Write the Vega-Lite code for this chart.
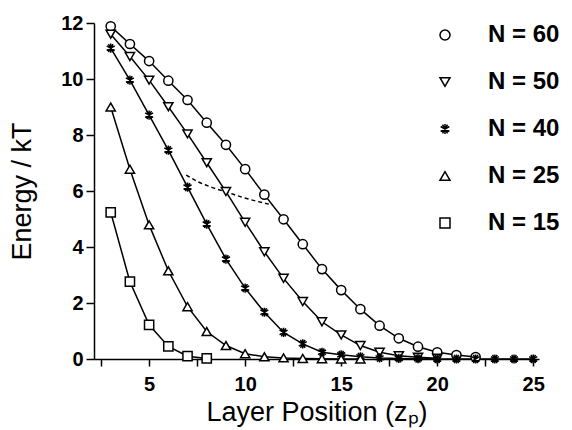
{
  "$schema": "https://vega.github.io/schema/vega-lite/v6.json",
  "width": 445,
  "height": 336,
  "autosize": "none",
  "padding": {"left": 94, "top": 23, "right": 33, "bottom": 71},
  "background": "white",
  "config": {
    "view": {"stroke": null},
    "font": "Liberation Sans",
    "axis": {
      "domainColor": "black", "domainWidth": 1.5, "tickColor": "black", "tickWidth": 1.5,
      "labelColor": "black", "titleColor": "black", "grid": false,
      "labelFont": "Liberation Sans", "labelFontWeight": "bold", "labelFontSize": 20,
      "titleFont": "Liberation Sans", "titleFontSize": 27, "titleFontWeight": "normal"
    }
  },
  "datasets": {
    "series": [
      {"N": "N = 60", "z": 3, "E": 11.88}, {"N": "N = 60", "z": 4, "E": 11.25}, {"N": "N = 60", "z": 5, "E": 10.64},
      {"N": "N = 60", "z": 6, "E": 9.94}, {"N": "N = 60", "z": 7, "E": 9.25}, {"N": "N = 60", "z": 8, "E": 8.44},
      {"N": "N = 60", "z": 9, "E": 7.65}, {"N": "N = 60", "z": 10, "E": 6.78}, {"N": "N = 60", "z": 11, "E": 5.87},
      {"N": "N = 60", "z": 12, "E": 4.99}, {"N": "N = 60", "z": 13, "E": 4.1}, {"N": "N = 60", "z": 14, "E": 3.21},
      {"N": "N = 60", "z": 15, "E": 2.46}, {"N": "N = 60", "z": 16, "E": 1.78}, {"N": "N = 60", "z": 17, "E": 1.19},
      {"N": "N = 60", "z": 18, "E": 0.74}, {"N": "N = 60", "z": 19, "E": 0.44}, {"N": "N = 60", "z": 20, "E": 0.24},
      {"N": "N = 60", "z": 21, "E": 0.14}, {"N": "N = 60", "z": 22, "E": 0.07},
      {"N": "N = 50", "z": 3, "E": 11.6}, {"N": "N = 50", "z": 4, "E": 10.8}, {"N": "N = 50", "z": 5, "E": 9.96},
      {"N": "N = 50", "z": 6, "E": 9.01}, {"N": "N = 50", "z": 7, "E": 8.04}, {"N": "N = 50", "z": 8, "E": 7.01},
      {"N": "N = 50", "z": 9, "E": 5.98}, {"N": "N = 50", "z": 10, "E": 4.88}, {"N": "N = 50", "z": 11, "E": 3.83},
      {"N": "N = 50", "z": 12, "E": 2.88}, {"N": "N = 50", "z": 13, "E": 2.05}, {"N": "N = 50", "z": 14, "E": 1.33},
      {"N": "N = 50", "z": 15, "E": 0.86}, {"N": "N = 50", "z": 16, "E": 0.48}, {"N": "N = 50", "z": 17, "E": 0.24},
      {"N": "N = 50", "z": 18, "E": 0.12}, {"N": "N = 50", "z": 19, "E": 0.06}, {"N": "N = 50", "z": 20, "E": 0.03},
      {"N": "N = 40", "z": 3, "E": 11.1}, {"N": "N = 40", "z": 4, "E": 9.96}, {"N": "N = 40", "z": 5, "E": 8.71},
      {"N": "N = 40", "z": 6, "E": 7.46}, {"N": "N = 40", "z": 7, "E": 6.14}, {"N": "N = 40", "z": 8, "E": 4.82},
      {"N": "N = 40", "z": 9, "E": 3.57}, {"N": "N = 40", "z": 10, "E": 2.53}, {"N": "N = 40", "z": 11, "E": 1.67},
      {"N": "N = 40", "z": 12, "E": 0.95}, {"N": "N = 40", "z": 13, "E": 0.54}, {"N": "N = 40", "z": 14, "E": 0.24},
      {"N": "N = 40", "z": 15, "E": 0.15}, {"N": "N = 40", "z": 16, "E": 0.08}, {"N": "N = 40", "z": 17, "E": 0.04},
      {"N": "N = 40", "z": 18, "E": 0.02}, {"N": "N = 40", "z": 19, "E": 0.01}, {"N": "N = 40", "z": 20, "E": 0.0},
      {"N": "N = 40", "z": 21, "E": 0.0}, {"N": "N = 40", "z": 22, "E": 0.0}, {"N": "N = 40", "z": 23, "E": 0.0},
      {"N": "N = 40", "z": 24, "E": 0.0}, {"N": "N = 40", "z": 25, "E": 0.0},
      {"N": "N = 25", "z": 3, "E": 9.0}, {"N": "N = 25", "z": 4, "E": 6.78}, {"N": "N = 25", "z": 5, "E": 4.79},
      {"N": "N = 25", "z": 6, "E": 3.15}, {"N": "N = 25", "z": 7, "E": 1.87}, {"N": "N = 25", "z": 8, "E": 0.98},
      {"N": "N = 25", "z": 9, "E": 0.48}, {"N": "N = 25", "z": 10, "E": 0.19}, {"N": "N = 25", "z": 11, "E": 0.08},
      {"N": "N = 25", "z": 12, "E": 0.04}, {"N": "N = 25", "z": 13, "E": 0.02}, {"N": "N = 25", "z": 14, "E": 0.01},
      {"N": "N = 25", "z": 15, "E": 0.0}, {"N": "N = 25", "z": 16, "E": 0.0},
      {"N": "N = 15", "z": 3, "E": 5.24}, {"N": "N = 15", "z": 4, "E": 2.76}, {"N": "N = 15", "z": 5, "E": 1.22},
      {"N": "N = 15", "z": 6, "E": 0.45}, {"N": "N = 15", "z": 7, "E": 0.1}, {"N": "N = 15", "z": 8, "E": 0.02}
    ],
    "dash": [
      {"z": 6.93, "E": 6.57}, {"z": 7.54, "E": 6.33}, {"z": 8.23, "E": 6.14}, {"z": 9.17, "E": 5.93},
      {"z": 9.79, "E": 5.79}, {"z": 10.68, "E": 5.62}, {"z": 11.44, "E": 5.5}
    ]
  },
  "layer": [
    {
      "data": {"name": "series"},
      "mark": {"type": "line", "color": "black", "strokeWidth": 1.5},
      "encoding": {
        "x": {"field": "z", "type": "quantitative", "scale": {"domain": [2.13, 25.3], "nice": false, "zero": false},
              "axis": {"values": [2.5, 5, 7.5, 10, 12.5, 15, 17.5, 20, 22.5, 25], "tickSize": 7, "labelPadding": 8,
                       "labelExpr": "datum.value % 5 == 0 ? datum.label : ''",
                       "encode": {"ticks": {"update": {"y2": {"signal": "datum.value % 5 == 0 ? 7 : 4"}}}},
                       "title": "Layer Position (zₚ)", "titlePadding": 5}},
        "y": {"field": "E", "type": "quantitative", "scale": {"domain": [0, 12], "nice": false},
              "axis": {"values": [0, 1, 2, 3, 4, 5, 6, 7, 8, 9, 10, 11, 12], "tickSize": 8, "labelPadding": 3,
                       "labelExpr": "datum.value % 2 == 0 ? datum.label : ''",
                       "encode": {"ticks": {"update": {"x2": {"signal": "datum.value % 2 == 0 ? -8 : -4"}}}},
                       "title": "Energy / kT", "titlePadding": 24}},
        "detail": {"field": "N", "type": "nominal"}
      }
    },
    {
      "data": {"name": "dash"},
      "mark": {"type": "line", "color": "black", "strokeWidth": 1.5, "strokeDash": [4, 3], "interpolate": "monotone"},
      "encoding": {
        "x": {"field": "z", "type": "quantitative"},
        "y": {"field": "E", "type": "quantitative"}
      }
    },
    {
      "data": {"name": "series"},
      "mark": {"type": "point", "color": "black", "fill": "white", "fillOpacity": 1, "strokeWidth": 1.5, "size": 85},
      "encoding": {
        "x": {"field": "z", "type": "quantitative"},
        "y": {"field": "E", "type": "quantitative"},
        "shape": {
          "field": "N", "type": "nominal",
          "scale": {
            "domain": ["N = 60", "N = 50", "N = 40", "N = 25", "N = 15"],
            "range": ["circle", "triangle-down", "M0,-1L0,1M-0.87,-0.5L0.87,0.5M-0.87,0.5L0.87,-0.5M-0.5,-0.87L0.5,0.87M-0.5,0.87L0.5,-0.87", "triangle-up", "square"]
          },
          "legend": {
            "orient": "none", "legendX": 339, "legendY": 0, "title": null,
            "labelFont": "Liberation Sans", "labelFontSize": 24, "labelFontWeight": "bold", "labelColor": "black",
            "labelOffset": 31, "rowPadding": 23,
            "encode": {
              "symbols": {
                "update": {
                  "shape": {"signal": "datum.value == 'N = 60' ? 'M-7.3,0L-0.9,0M0.9,0L7.3,0M0.9,0A0.9,0.9 0 1,1 -0.9,0A0.9,0.9 0 1,1 0.9,0Z' : datum.value == 'N = 50' ? 'M-7.3,0L-0.46,0M0.46,0L7.3,0M-0.9,-0.75L0.9,-0.75L0,0.8Z' : datum.value == 'N = 40' ? 'M-7.3,0L7.3,0M0,-0.9L0,0.9M-0.65,-0.65L0.65,0.65M-0.65,0.65L0.65,-0.65' : datum.value == 'N = 25' ? 'M-7.3,0L-0.46,0M0.46,0L7.3,0M-0.9,0.75L0.9,0.75L0,-0.8Z' : 'M-7.3,0L-0.8,0M0.8,0L7.3,0M-0.8,-0.8L0.8,-0.8L0.8,0.8L-0.8,0.8Z'"},
                  "size": {"value": 81},
                  "strokeWidth": {"value": 1.2},
                  "stroke": {"value": "black"},
                  "fill": {"value": "white"},
                  "opacity": {"value": 1}
                }
              }
            }
          }
        }
      }
    }
  ]
}
